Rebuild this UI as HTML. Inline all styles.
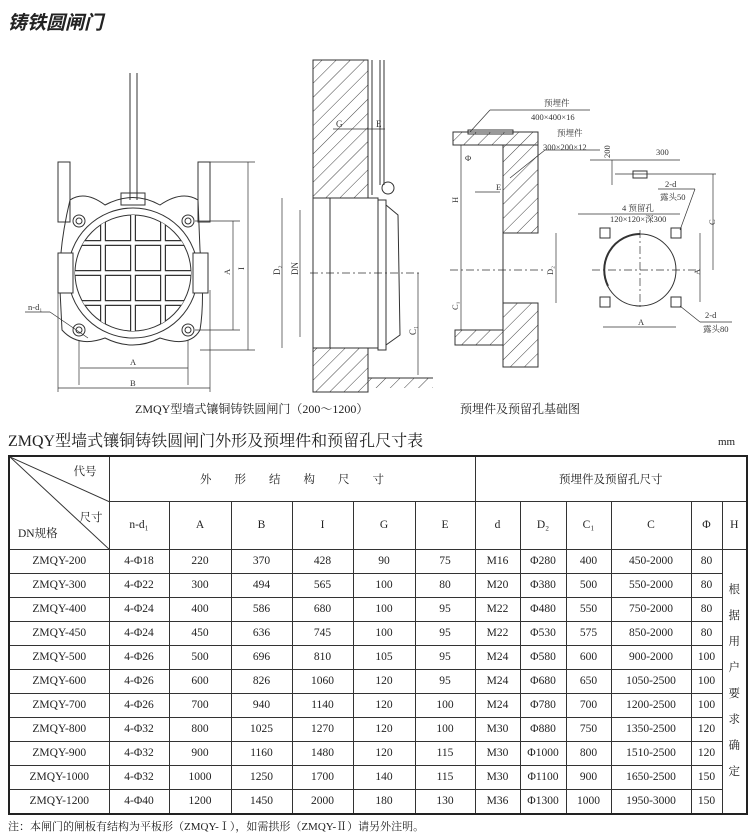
<!DOCTYPE html>
<html><head><meta charset="utf-8">
<style>
body{margin:0;background:#fff;width:750px;height:835px;overflow:hidden;position:relative;font-family:"Liberation Serif","Noto Serif CJK SC",serif;color:#222}
.t{position:absolute;white-space:nowrap}
table{position:absolute;left:8px;top:455px;border-collapse:collapse;font-size:11.5px;font-family:"Liberation Serif","Noto Serif CJK SC",serif;color:#222}
td{border:1px solid #333;text-align:center;padding:0;height:23px}
table{border:2px solid #222}
</style></head><body>
<div class="t" style="left:8px;top:8px;font-size:19px;font-style:italic;font-weight:bold;font-family:'Noto Sans CJK SC',sans-serif">铸铁圆闸门</div>
<svg width="750" height="430" style="position:absolute;left:0;top:0" stroke="#333" fill="none" stroke-width="1">
<defs><pattern id="h" width="10" height="10" patternUnits="userSpaceOnUse" patternTransform="rotate(45)"><line x1="0" y1="0" x2="0" y2="10" stroke="#444"/></pattern></defs>
<line x1="130" y1="73" x2="130" y2="200"/><line x1="137" y1="73" x2="137" y2="200"/>
<rect x="121" y="193" width="24" height="12"/>
<rect x="58" y="162" width="12" height="60"/><rect x="198" y="162" width="12" height="60"/>
<path d="M70 200 Q85 190 105 205 Q133 190 160 205 Q182 190 198 200 L200 250 Q205 300 200 330 Q190 348 160 338 Q133 352 105 338 Q78 348 62 330 L60 290 Q58 250 70 200Z"/>
<circle cx="133" cy="273" r="65"/><circle cx="133" cy="273" r="58"/>
<clipPath id="c"><circle cx="133" cy="273" r="58"/></clipPath>
<g clip-path="url(#c)" stroke-width="6">
<line x1="103" y1="210" x2="103" y2="340"/><line x1="133" y1="210" x2="133" y2="340"/><line x1="163" y1="210" x2="163" y2="340"/>
<line x1="70" y1="243" x2="200" y2="243"/><line x1="70" y1="273" x2="200" y2="273"/><line x1="70" y1="303" x2="200" y2="303"/></g>
<g clip-path="url(#c)" stroke-width="3.6" stroke="#fff">
<line x1="103" y1="210" x2="103" y2="340"/><line x1="133" y1="210" x2="133" y2="340"/><line x1="163" y1="210" x2="163" y2="340"/>
<line x1="70" y1="243" x2="200" y2="243"/><line x1="70" y1="273" x2="200" y2="273"/><line x1="70" y1="303" x2="200" y2="303"/></g>
<rect x="58" y="253" width="15" height="40" fill="#fff"/><rect x="193" y="253" width="15" height="40" fill="#fff"/>
<g><circle cx="79" cy="221" r="6"/><circle cx="188" cy="221" r="6"/><circle cx="79" cy="330" r="6"/><circle cx="188" cy="330" r="6"/>
<circle cx="79" cy="221" r="3"/><circle cx="188" cy="221" r="3"/><circle cx="79" cy="330" r="3"/><circle cx="188" cy="330" r="3"/></g>
<g stroke-width=".7"><line x1="79" y1="340" x2="79" y2="385"/><line x1="188" y1="340" x2="188" y2="385"/><line x1="80" y1="368" x2="188" y2="368"/>
<line x1="58" y1="290" x2="58" y2="392"/><line x1="210" y1="290" x2="210" y2="392"/><line x1="58" y1="388" x2="210" y2="388"/>
<line x1="210" y1="162" x2="255" y2="162"/><line x1="248" y1="162" x2="248" y2="350"/><line x1="200" y1="350" x2="255" y2="350"/>
<line x1="195" y1="221" x2="240" y2="221"/><line x1="233" y1="221" x2="233" y2="330"/><line x1="195" y1="330" x2="240" y2="330"/>
<line x1="25" y1="312" x2="50" y2="312"/><line x1="50" y1="312" x2="88" y2="338"/></g>
<rect x="313" y="60" width="55" height="138" fill="url(#h)"/>
<rect x="313" y="348" width="55" height="44" fill="url(#h)"/>
<rect x="368" y="378" width="65" height="10" fill="url(#h)" stroke="none"/>
<line x1="368" y1="378" x2="433" y2="378"/>
<rect x="313" y="198" width="65" height="150"/><line x1="330" y1="198" x2="330" y2="348"/>
<rect x="378" y="200" width="8" height="150"/>
<path d="M386 205 L398 215 L400 335 L386 345"/>
<line x1="372" y1="60" x2="372" y2="195"/><line x1="380" y1="60" x2="380" y2="185"/><line x1="384" y1="60" x2="384" y2="185"/>
<circle cx="388" cy="188" r="6"/>
<g stroke-width=".7"><line x1="282" y1="198" x2="282" y2="348"/><line x1="300" y1="210" x2="300" y2="337"/>
<line x1="310" y1="273" x2="420" y2="273" stroke-dasharray="8 3 2 3"/><line x1="418" y1="273" x2="418" y2="375"/>
<line x1="333" y1="129" x2="368" y2="129"/><line x1="368" y1="129" x2="385" y2="129"/></g>
<text x="336" y="127" font-size="9" fill="#333" stroke="none">G</text><text x="376" y="127" font-size="9" fill="#333" stroke="none">E</text>
<text x="280" y="275" font-size="9" fill="#333" stroke="none" transform="rotate(-90 280 275)">D₂</text>
<text x="298" y="275" font-size="9" fill="#333" stroke="none" transform="rotate(-90 298 275)">DN</text>
<text x="416" y="335" font-size="9" fill="#333" stroke="none" transform="rotate(-90 416 335)">C₁</text>
<rect x="453" y="132" width="85" height="13" fill="url(#h)"/>
<rect x="503" y="145" width="35" height="88" fill="url(#h)"/>
<rect x="503" y="303" width="35" height="64" fill="url(#h)"/>
<rect x="455" y="330" width="48" height="15" fill="url(#h)"/>
<rect x="468" y="130" width="45" height="4"/>
<line x1="503" y1="233" x2="503" y2="303"/>
<g stroke-width=".7"><line x1="461" y1="145" x2="461" y2="330"/><line x1="450" y1="270" x2="545" y2="270" stroke-dasharray="8 3 2 3"/>
<line x1="556" y1="233" x2="556" y2="303"/><line x1="475" y1="192" x2="500" y2="192"/>
<line x1="490" y1="110" x2="590" y2="110"/><line x1="490" y1="110" x2="470" y2="132"/>
<line x1="545" y1="150" x2="600" y2="150"/><line x1="545" y1="150" x2="510" y2="178"/>
<line x1="592" y1="270" x2="700" y2="270" stroke-dasharray="8 3 2 3"/><line x1="640" y1="230" x2="640" y2="310" stroke-dasharray="8 3 2 3"/>
<line x1="615" y1="174" x2="716" y2="174"/><line x1="713" y1="174" x2="713" y2="270"/>
<line x1="700" y1="233" x2="700" y2="302"/><line x1="603" y1="327" x2="676" y2="327"/>
<line x1="590" y1="160" x2="680" y2="160"/><line x1="612" y1="160" x2="612" y2="185"/>
<line x1="658" y1="189" x2="695" y2="189"/><line x1="695" y1="189" x2="680" y2="230"/>
<line x1="578" y1="214" x2="680" y2="214"/><line x1="680" y1="306" x2="700" y2="322"/><line x1="700" y1="322" x2="732" y2="322"/></g>
<circle cx="640" cy="270" r="36"/><path d="M608 286 A36 36 0 0 1 640 234" stroke-width="2"/>
<rect x="633" y="171" width="14" height="7"/>
<rect x="600" y="228" width="10" height="10"/><rect x="671" y="228" width="10" height="10"/><rect x="600" y="297" width="10" height="10"/><rect x="671" y="297" width="10" height="10"/>
<g fill="#333" stroke="none" font-size="8.5" font-family="Liberation Serif,Noto Serif CJK SC,serif">
<text x="28" y="310">n-d₁</text><text x="130" y="365">A</text><text x="130" y="386">B</text>
<text x="244" y="270" transform="rotate(-90 244 270)">I</text><text x="230" y="275" transform="rotate(-90 230 275)">A</text>
<text x="544" y="106">预埋件</text><text x="531" y="120">400×400×16</text>
<text x="557" y="136">预埋件</text><text x="543" y="150">300×200×12</text>
<text x="496" y="190">E</text><text x="465" y="161">Φ</text>
<text x="458" y="203" transform="rotate(-90 458 203)">H</text><text x="458" y="310" transform="rotate(-90 458 310)">C₁</text>
<text x="553" y="275" transform="rotate(-90 553 275)">D₂</text>
<text x="656" y="155">300</text><text x="610" y="158" transform="rotate(-90 610 158)">200</text>
<text x="665" y="187">2-d</text><text x="660" y="200">露头50</text>
<text x="622" y="211">4 预留孔</text><text x="610" y="222">120×120×深300</text>
<text x="715" y="225" transform="rotate(-90 715 225)">C</text><text x="700" y="275" transform="rotate(-90 700 275)">A</text>
<text x="638" y="325">A</text><text x="705" y="318">2-d</text><text x="703" y="332">露头80</text></g>
<g fill="#222" stroke="none" font-size="12"><text x="135" y="413">ZMQY型墙式镶铜铸铁圆闸门（200～1200）</text>
<text x="460" y="413">预埋件及预留孔基础图</text></g>
</svg>
<div class="t" style="left:8px;top:428px;font-size:16px">ZMQY型墙式镶铜铸铁圆闸门外形及预埋件和预留孔尺寸表</div>
<div class="t" style="left:718px;top:436px;font-size:11px">mm</div>
<table>
<colgroup><col style="width:100px"><col style="width:60px"><col style="width:62px"><col style="width:61px"><col style="width:61px"><col style="width:62px"><col style="width:60px"><col style="width:45px"><col style="width:46px"><col style="width:45px"><col style="width:80px"><col style="width:31px"><col style="width:25px"></colgroup>
<tr style="height:45px"><td rowspan="2" style="position:relative;padding:0"><svg width="100" height="93" style="position:absolute;left:0;top:0"><line x1="0" y1="0" x2="100" y2="45" stroke="#333"/><line x1="0" y1="0" x2="100" y2="93" stroke="#333"/></svg><span style="position:absolute;right:12px;top:6px">代号</span><span style="position:absolute;right:6px;top:52px">尺寸</span><span style="position:absolute;left:8px;top:68px">DN规格</span></td>
<td colspan="6">外&nbsp;&nbsp;&nbsp;&nbsp;&nbsp;&nbsp;&nbsp;&nbsp;形&nbsp;&nbsp;&nbsp;&nbsp;&nbsp;&nbsp;&nbsp;&nbsp;结&nbsp;&nbsp;&nbsp;&nbsp;&nbsp;&nbsp;&nbsp;&nbsp;构&nbsp;&nbsp;&nbsp;&nbsp;&nbsp;&nbsp;&nbsp;&nbsp;尺&nbsp;&nbsp;&nbsp;&nbsp;&nbsp;&nbsp;&nbsp;&nbsp;寸</td><td colspan="6">预埋件及预留孔尺寸</td></tr>
<tr style="height:48px"><td>n-d₁</td><td>A</td><td>B</td><td>I</td><td>G</td><td>E</td><td>d</td><td>D₂</td><td>C₁</td><td>C</td><td>Φ</td><td>H</td></tr>
<tr><td>ZMQY-200</td><td>4-Φ18</td><td>220</td><td>370</td><td>428</td><td>90</td><td>75</td><td>M16</td><td>Φ280</td><td>400</td><td>450-2000</td><td>80</td><td rowspan="11" style="line-height:26px">根<br>据<br>用<br>户<br>要<br>求<br>确<br>定</td></tr>
<tr><td>ZMQY-300</td><td>4-Φ22</td><td>300</td><td>494</td><td>565</td><td>100</td><td>80</td><td>M20</td><td>Φ380</td><td>500</td><td>550-2000</td><td>80</td></tr>
<tr><td>ZMQY-400</td><td>4-Φ24</td><td>400</td><td>586</td><td>680</td><td>100</td><td>95</td><td>M22</td><td>Φ480</td><td>550</td><td>750-2000</td><td>80</td></tr>
<tr><td>ZMQY-450</td><td>4-Φ24</td><td>450</td><td>636</td><td>745</td><td>100</td><td>95</td><td>M22</td><td>Φ530</td><td>575</td><td>850-2000</td><td>80</td></tr>
<tr><td>ZMQY-500</td><td>4-Φ26</td><td>500</td><td>696</td><td>810</td><td>105</td><td>95</td><td>M24</td><td>Φ580</td><td>600</td><td>900-2000</td><td>100</td></tr>
<tr><td>ZMQY-600</td><td>4-Φ26</td><td>600</td><td>826</td><td>1060</td><td>120</td><td>95</td><td>M24</td><td>Φ680</td><td>650</td><td>1050-2500</td><td>100</td></tr>
<tr><td>ZMQY-700</td><td>4-Φ26</td><td>700</td><td>940</td><td>1140</td><td>120</td><td>100</td><td>M24</td><td>Φ780</td><td>700</td><td>1200-2500</td><td>100</td></tr>
<tr><td>ZMQY-800</td><td>4-Φ32</td><td>800</td><td>1025</td><td>1270</td><td>120</td><td>100</td><td>M30</td><td>Φ880</td><td>750</td><td>1350-2500</td><td>120</td></tr>
<tr><td>ZMQY-900</td><td>4-Φ32</td><td>900</td><td>1160</td><td>1480</td><td>120</td><td>115</td><td>M30</td><td>Φ1000</td><td>800</td><td>1510-2500</td><td>120</td></tr>
<tr><td>ZMQY-1000</td><td>4-Φ32</td><td>1000</td><td>1250</td><td>1700</td><td>140</td><td>115</td><td>M30</td><td>Φ1100</td><td>900</td><td>1650-2500</td><td>150</td></tr>
<tr><td>ZMQY-1200</td><td>4-Φ40</td><td>1200</td><td>1450</td><td>2000</td><td>180</td><td>130</td><td>M36</td><td>Φ1300</td><td>1000</td><td>1950-3000</td><td>150</td></tr>
</table>
<div class="t" style="left:8px;top:818px;font-size:11px">注：本闸门的闸板有结构为平板形（ZMQY-Ⅰ），如需拱形（ZMQY-Ⅱ）请另外注明。</div>
</body></html>
